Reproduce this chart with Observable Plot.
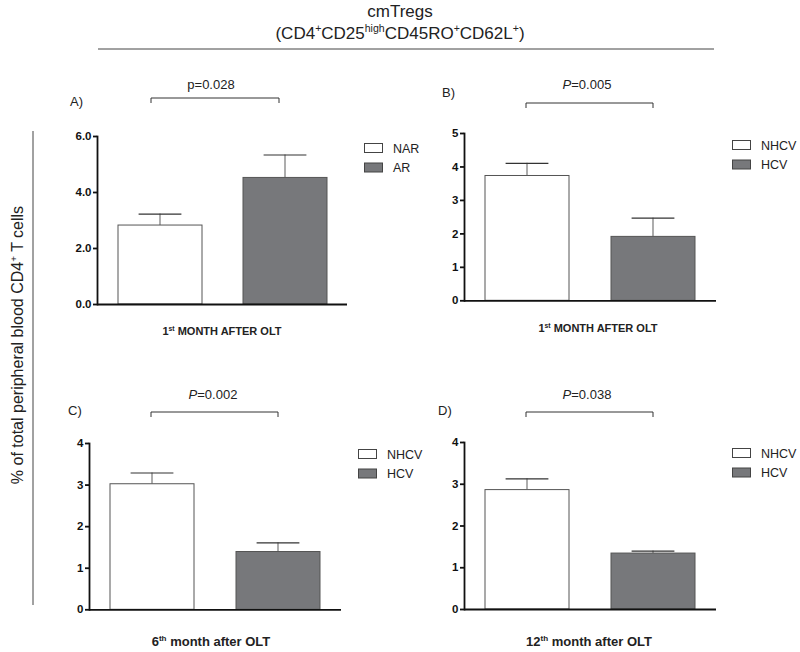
<!DOCTYPE html>
<html>
<head>
<meta charset="utf-8">
<script src="https://cdn.jsdelivr.net/npm/d3@7"></script>
<script src="https://cdn.jsdelivr.net/npm/@observablehq/plot@0.6"></script>
<style>
  html, body { margin: 0; padding: 0; background: #fff; }
  #wrap { position: relative; width: 800px; height: 652px; overflow: hidden; font-family: "Liberation Sans", Arial, sans-serif; }
  .panel { position: absolute; }
  .panel text { font-weight: bold; fill: #111; }
  #overlay { position: absolute; left: 0; top: 0; }
</style>
</head>
<body>
<div id="wrap"></div>
<script>
// ---- data ----
const groupsA = ["NAR", "AR"];
const groupsHCV = ["NHCV", "HCV"];
const meanA = [2.82, 4.52];
const errA = [3.23, 5.34];
const meanB = [3.73, 1.91];
const errB = [4.11, 2.47];
const meanC = [3.02, 1.39];
const errC = [3.29, 1.61];
const meanD = [2.86, 1.34];
const errD = [3.13, 1.40];
const ticksA = [0, 2, 4, 6];
const ticksB = [0, 1, 2, 3, 4, 5];
const ticksCD = [0, 1, 2, 3, 4];
const panelLabels = ["A)", "B)", "C)", "D)"];
const pLetters = ["p", "P", "P", "P"];
const pValues = ["=0.028", "=0.005", "=0.002", "=0.038"];
const fillColors = ["#ffffff", "#77787b"];

const wrap = document.getElementById("wrap");

function makePanel(cfg) {
  const mL = 40, mT = 10, mB = 10, mR = 0;
  const width = cfg.axisEnd - cfg.axisX + mL + mR;
  const height = cfg.y0Px - cfg.yTopPx + mT + mB;
  const data = cfg.groups.map((g, i) => ({g, v: cfg.means[i], e: cfg.errs[i]}));
  const chart = Plot.plot({
    width, height,
    marginLeft: mL, marginRight: mR, marginTop: mT, marginBottom: mB,
    style: {fontFamily: "Liberation Sans, Arial, sans-serif", fontSize: "11.5px", fontWeight: "bold", color: "#111", background: "transparent"},
    x: {type: "band", domain: cfg.groups, axis: null, paddingInner: 0.33, paddingOuter: 0.16},
    y: {domain: [0, cfg.yMax], ticks: cfg.ticks, tickFormat: cfg.fmt, line: true, tickSize: 4, tickPadding: 2, label: null},
    color: {domain: cfg.groups, range: fillColors},
    marks: [
      Plot.barY(data, {x: "g", y1: "v", y2: "e", insetLeft: 41.6, insetRight: 41.6, fill: "#333"}),
      Plot.tickY(data, {x: "g", y: "e", insetLeft: 20.6, insetRight: 20.6, stroke: "#333", strokeWidth: 1.2}),
      Plot.barY(data, {x: "g", y: "v", fill: "g", stroke: "#555", strokeWidth: 1}),
      Plot.ruleY([0], {stroke: "#111", strokeWidth: 1.8})
    ]
  });
  // thicken the axis line and tick marks
  d3.select(chart).selectAll("[stroke='currentColor']").each(function() {
    if (this.tagName !== "text") {
      d3.select(this).attr("stroke-width", 1.8).attr("stroke-opacity", 1).style("stroke", "#111");
    }
  });
  chart.classList.add("panel");
  chart.style.left = (cfg.axisX - mL) + "px";
  chart.style.top = (cfg.yTopPx - mT) + "px";
  wrap.appendChild(chart);
}

makePanel({groups: groupsA, means: meanA, errs: errA, ticks: ticksA, fmt: d3.format(".1f"), yMax: 6,
  axisX: 97, axisEnd: 347, yTopPx: 136, y0Px: 304});
makePanel({groups: groupsHCV, means: meanB, errs: errB, ticks: ticksB, fmt: d3.format("d"), yMax: 5,
  axisX: 464, axisEnd: 716, yTopPx: 132.7, y0Px: 300});
makePanel({groups: groupsHCV, means: meanC, errs: errC, ticks: ticksCD, fmt: d3.format("d"), yMax: 4,
  axisX: 89, axisEnd: 341, yTopPx: 443, y0Px: 609.3});
makePanel({groups: groupsHCV, means: meanD, errs: errD, ticks: ticksCD, fmt: d3.format("d"), yMax: 4,
  axisX: 464, axisEnd: 716, yTopPx: 442, y0Px: 609});

// ---- annotations overlay ----
const svg = d3.select(wrap).append("svg").attr("id", "overlay")
  .attr("width", 800).attr("height", 652)
  .style("font-family", "Liberation Sans, Arial, sans-serif").style("fill", "#222");

function richText(parent, x, y, parts, size, opts = {}) {
  const t = parent.append("text").attr("x", x).attr("y", y)
    .attr("text-anchor", opts.anchor || "middle")
    .style("font-size", size + "px")
    .style("font-weight", opts.weight || "normal");
  if (opts.transform) t.attr("transform", opts.transform).attr("x", 0).attr("y", 0);
  let pendingDy = 0;
  parts.forEach(p => {
    let s;
    if (typeof p === "string") {
      s = t.append("tspan").text(p);
      if (pendingDy) { s.attr("dy", pendingDy); pendingDy = 0; }
    } else if (p.sup) {
      s = t.append("tspan").attr("dy", -size * 0.4 + pendingDy).style("font-size", (size * 0.62) + "px").text(p.sup);
      pendingDy = size * 0.4;
    } else if (p.i) {
      s = t.append("tspan").style("font-style", "italic").text(p.i);
      if (pendingDy) { s.attr("dy", pendingDy); pendingDy = 0; }
    }
  });
  return t;
}

// Title
richText(svg, 400, 17, ["cmTregs"], 17);
richText(svg, 400, 39, ["(CD4", {sup: "+"}, "CD25", {sup: "high"}, "CD45RO", {sup: "+"}, "CD62L", {sup: "+"}, ")"], 17);
svg.append("line").attr("x1", 98).attr("x2", 714).attr("y1", 49).attr("y2", 49).attr("stroke", "#444").attr("stroke-width", 1);

// Left axis title and line
svg.append("line").attr("x1", 33).attr("x2", 33).attr("y1", 131).attr("y2", 605).attr("stroke", "#444").attr("stroke-width", 1);
richText(svg, 0, 0, ["% of total peripheral blood CD4", {sup: "+"}, " T cells"], 16, {transform: "translate(23,345) rotate(-90)"});

// Panel labels, p-values, brackets
const ann = [
  {lab: [70, 106], p: [211, 89], br: [151, 279, 98]},
  {lab: [442, 97], p: [587, 89], br: [526, 653, 103]},
  {lab: [68, 415], p: [213, 399], br: [151, 278, 412]},
  {lab: [438, 415], p: [587, 399], br: [526, 653, 412]}
];
ann.forEach((a, i) => {
  richText(svg, a.lab[0], a.lab[1], [panelLabels[i]], 13, {anchor: "start"});
  const parts = i === 0 ? [pLetters[i] + pValues[i]] : [{i: pLetters[i]}, pValues[i]];
  richText(svg, a.p[0], a.p[1], parts, 13);
  const [x1, x2, y] = a.br;
  svg.append("path").attr("d", `M${x1},${y + 5}V${y}H${x2}V${y + 5}`)
    .attr("fill", "none").attr("stroke", "#333").attr("stroke-width", 1);
});

// Legends
const legends = [
  {x: 364, y: 143, names: groupsA},
  {x: 732, y: 140, names: groupsHCV},
  {x: 358, y: 449, names: groupsHCV},
  {x: 732, y: 448, names: groupsHCV}
];
legends.forEach(L => {
  L.names.forEach((n, j) => {
    const yy = L.y + j * 19.5;
    svg.append("rect").attr("x", L.x + 0.5).attr("y", yy + 0.5).attr("width", 18).attr("height", 9)
      .attr("fill", fillColors[j]).attr("stroke", "#444").attr("stroke-width", 1);
    richText(svg, L.x + 29, yy + 9.5, [n], 12.5, {anchor: "start"});
  });
});

// Captions
richText(svg, 222, 335, ["1", {sup: "st"}, " MONTH AFTER OLT"], 11, {weight: "bold"});
richText(svg, 598, 332, ["1", {sup: "st"}, " MONTH AFTER OLT"], 11, {weight: "bold"});
richText(svg, 211, 646, ["6", {sup: "th"}, " month after OLT"], 13, {weight: "bold"});
richText(svg, 589, 646, ["12", {sup: "th"}, " month after OLT"], 13, {weight: "bold"});
</script>
</body>
</html>
